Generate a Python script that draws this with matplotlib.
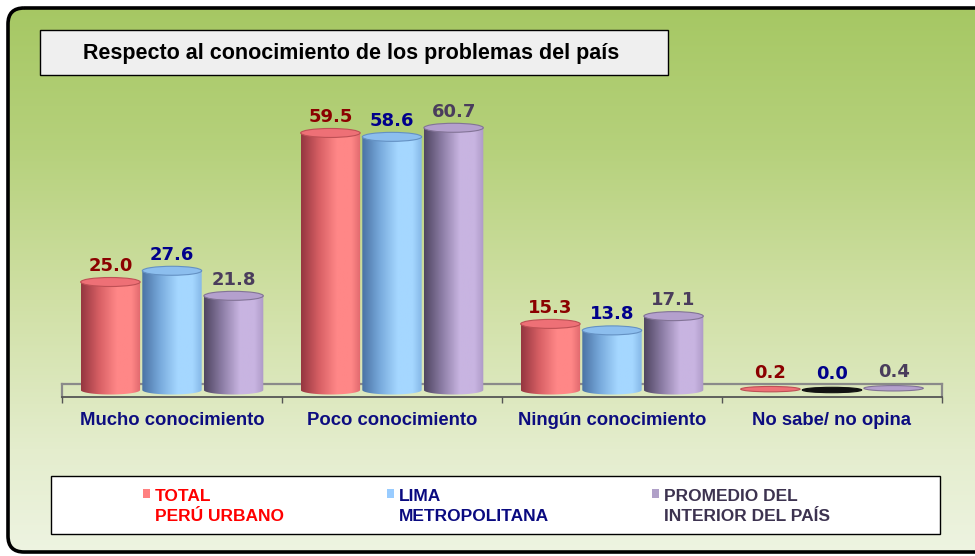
import numpy as np
import matplotlib
matplotlib.use("Agg")
import matplotlib.pyplot as plt
from matplotlib.patches import FancyBboxPatch, Rectangle, Ellipse, PathPatch
from matplotlib.path import Path
from matplotlib.colors import LinearSegmentedColormap

# ---------------- data ----------------
categories = ["Mucho conocimiento", "Poco conocimiento", "Ningún conocimiento", "No sabe/ no opina"]
series_line1 = ["TOTAL", "LIMA", "PROMEDIO DEL"]
series_line2 = ["PERÚ URBANO", "METROPOLITANA", "INTERIOR DEL PAÍS"]
total_peru = [25.0, 59.5, 15.3, 0.2]
lima_metro = [27.6, 58.6, 13.8, 0.0]
interior = [21.8, 60.7, 17.1, 0.4]
title = "Respecto al conocimiento de los problemas del país"

series = [total_peru, lima_metro, interior]

# ---------------- styles ----------------
FONT = ["Liberation Sans", "DejaVu Sans"]
plt.rcParams["font.family"] = FONT

def c(r, g, b):
    return (r / 255, g / 255, b / 255)

grad_stops = [
    [c(150, 55, 65), c(215, 95, 100), c(255, 135, 135), c(255, 135, 135), c(225, 105, 110)],
    [c(75, 115, 165), c(120, 170, 220), c(165, 215, 255), c(165, 215, 255), c(135, 185, 232)],
    [c(80, 70, 98), c(140, 125, 165), c(200, 180, 225), c(200, 180, 225), c(175, 155, 200)],
]
cap_colors = [c(238, 112, 118), c(140, 190, 238), c(180, 160, 205)]
cap_edges = [c(190, 80, 85), c(100, 145, 195), c(130, 115, 150)]
value_colors = ["#8b0000", "#00008b", "#4a3d5c"]
legend_colors = ["#ff0000", "#0a0a80", "#3d3350"]
marker_colors = [c(255, 128, 128), c(153, 204, 255), c(176, 160, 200)]
cat_color = "#0d0d80"

W, H = 975, 556
fig = plt.figure(figsize=(W / 100, H / 100), dpi=100)

# ---------------- background / frame ----------------
bg = fig.add_axes([0, 0, 1, 1])
bg.set_xlim(0, W)
bg.set_ylim(H, 0)
bg.axis("off")

ys = np.linspace(0, H, 300)
stops_y = [0, 150, 300, 450, 556]
stops_c = np.array([[165, 199, 98], [182, 209, 124], [208, 224, 165], [228, 237, 205], [238, 244, 226]]) / 255
col = np.stack([np.interp(ys, stops_y, stops_c[:, k]) for k in range(3)], axis=1)
img = np.repeat(col[:, None, :], 4, axis=1)
frame = FancyBboxPatch((8, 8), W + 20, 544, boxstyle="round,pad=0,rounding_size=16",
                       facecolor="none", edgecolor="black", linewidth=2.6, zorder=5)
bg.add_patch(frame)
im = bg.imshow(img, extent=[0, W, H, 0], aspect="auto", zorder=0)
im.set_clip_path(frame)

# title box
bg.add_patch(Rectangle((40, 30), 628, 45, facecolor="#efefef", edgecolor="black", linewidth=1, zorder=2))
bg.text(83, 53, title, fontsize=15.5, fontweight="bold", color="black", va="center", ha="left", zorder=3)

# floor (3D base)
base_y, back_y, front_y = 390, 384, 397
bg.plot([62, 942], [back_y, back_y], color="#8a8a8a", lw=1.6, zorder=1)
bg.plot([62, 62], [back_y, front_y], color="#8a8a8a", lw=1.6, zorder=1)
bg.plot([942, 942], [back_y, front_y], color="#8a8a8a", lw=1.6, zorder=1)

# legend box
bg.add_patch(Rectangle((51, 476), 889, 58, facecolor="white", edgecolor="black", linewidth=1, zorder=2))
mark_x = [143, 387, 652]
for j in range(3):
    bg.add_patch(Rectangle((mark_x[j], 489), 7, 9, facecolor=marker_colors[j], edgecolor="none", zorder=3))
    bg.text(mark_x[j] + 12, 501, series_line1[j], fontsize=12.5, fontweight="bold",
            color=legend_colors[j], ha="left", va="baseline", zorder=3)
    bg.text(mark_x[j] + 12, 521, series_line2[j], fontsize=12.5, fontweight="bold",
            color=legend_colors[j], ha="left", va="baseline", zorder=3)

# ---------------- chart axes ----------------
px_per_unit = 4.32
ax_left, ax_right = 62, 942
ax_top = 100
ax_bottom_px = base_y + 12
ax = fig.add_axes([ax_left / W, (H - ax_bottom_px) / H, (ax_right - ax_left) / W, (ax_bottom_px - ax_top) / H])
ax.patch.set_alpha(0)
ymax = (base_y - ax_top) / px_per_unit
ymin = -(ax_bottom_px - base_y) / px_per_unit
n = len(categories)

offsets = [-0.28, 0.0, 0.28]
bw = 0.27
eh = 9 / px_per_unit  # ellipse height in data units

for j, vals in enumerate(series):
    cmap = LinearSegmentedColormap.from_list(f"g{j}", list(zip([0, 0.3, 0.6, 0.85, 1.0], grad_stops[j])))
    grad = np.linspace(0, 1, 64)[None, :]
    for i, v in enumerate(vals):
        xc = i + offsets[j]
        x0, x1 = xc - bw / 2, xc + bw / 2
        if v > 0.5:
            t = np.linspace(np.pi, 2 * np.pi, 40)
            bottom = np.column_stack([xc + bw / 2 * np.cos(t), 0 + eh / 2 * np.sin(t)])
            verts = np.vstack([[x0, v], bottom, [x1, v], [x0, v]])
            pp = PathPatch(Path(verts), facecolor="none", edgecolor="none", transform=ax.transData)
            ax.add_patch(pp)
            bim = ax.imshow(grad, extent=[x0, x1, -eh, v], aspect="auto", cmap=cmap, zorder=2)
            bim.set_clip_path(pp)
            cap_h = eh
        else:
            cap_h = eh * 0.6
        fc = cap_colors[j] if v > 0 else "#111111"
        ec = cap_edges[j] if v > 0 else "#111111"
        ax.add_patch(Ellipse((xc, v), bw, cap_h, facecolor=fc, edgecolor=ec, linewidth=0.8, zorder=3))
        ax.annotate(f"{v:.1f}", (xc, v), xytext=(0, 8), textcoords="offset points",
                    ha="center", va="baseline", fontsize=13, fontweight="bold",
                    color=value_colors[j], family=["DejaVu Sans"], zorder=4)

ax.set_xlim(-0.5, n - 0.5)
ax.set_ylim(ymin, ymax)
for s in ["top", "right", "left"]:
    ax.spines[s].set_visible(False)
ax.spines["bottom"].set_position(("data", -(front_y - base_y) / px_per_unit))
ax.spines["bottom"].set_color("#555555")
ax.spines["bottom"].set_linewidth(1.3)
ax.set_yticks([])
ax.set_xticks(np.arange(-0.5, n, 1.0))
ax.set_xticklabels([])
ax.tick_params(axis="x", which="major", length=4, width=1, color="#555555", direction="out")
ax.set_xticks(np.arange(n), minor=True)
ax.set_xticklabels(categories, minor=True)
ax.tick_params(axis="x", which="minor", length=0, pad=11, labelsize=13.3, labelcolor=cat_color)
for lab in ax.get_xticklabels(minor=True):
    lab.set_fontweight("bold")

fig.savefig("out.png", dpi=100)
